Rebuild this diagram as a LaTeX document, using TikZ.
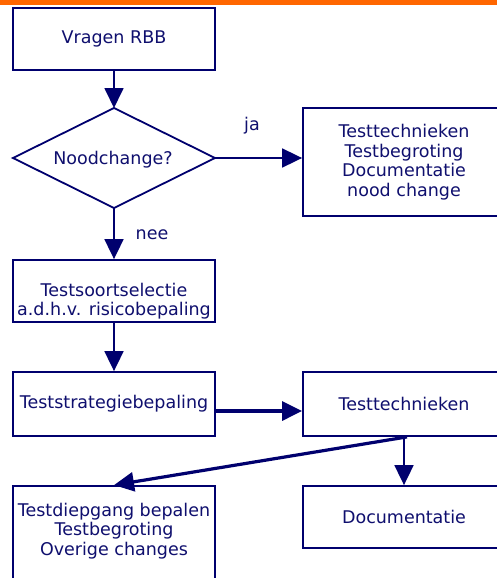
\documentclass[tikz,border=0pt]{standalone}
\usepackage{fontspec}
\setmainfont{DejaVu Sans}
\usetikzlibrary{arrows.meta}
\definecolor{navy}{RGB}{0,0,110}
\definecolor{navytext}{RGB}{15,15,110}
\definecolor{topbar}{RGB}{255,102,0}
\tikzset{
  txt/.style={text=navytext,font=\fontsize{17.5}{19.5}\selectfont,align=center,inner sep=0pt},
  box/.style={txt,draw=navy,line width=1.8pt,minimum width=202pt,minimum height=62pt},
  diaedge/.style={draw=navy,line width=1.8pt,line join=miter},
  arr/.style={draw=navy,line width=1.8pt,-{Triangle[length=20pt,width=19pt]}},
  thickarr/.style={draw=navy,line width=3.2pt,-{Triangle[length=20pt,width=19pt]}},
}
\begin{document}
\begin{tikzpicture}[x=1pt,y=-1pt]
\clip (0,0) rectangle (497,578);
\fill[white] (0,0) rectangle (497,578);
\fill[topbar] (0,0) rectangle (497,5);
\node[box] (vr) at (114,39) {Vragen RBB};
\coordinate (ncn) at (114,108);
\coordinate (nce) at (215,158);
\coordinate (ncs) at (114,208);
\coordinate (ncw) at (13,158);
\draw[diaedge] (ncn) -- (nce) -- (ncs) -- (ncw) -- cycle;
\node[txt] (nc) at (113,160) {Noodchange?};
\node[box,minimum height=108pt] (nood) at (404,162) {Testtechnieken\\Testbegroting\\Documentatie\\nood change};
\node[box] (tsel) at (114,291) {};
\node[txt] (tseltxt) at (114,301) {Testsoortselectie\\a.d.h.v. risicobepaling};
\node[box,minimum height=64pt] (tstrat) at (114,404) {Teststrategiebepaling};
\node[box,minimum height=64pt] (ttech) at (404,404) {Testtechnieken};
\node[box,minimum height=110pt] (tdiep) at (114,541) {};
\node[txt] (tdieptxt) at (114,531) {Testdiepgang bepalen\\Testbegroting\\Overige changes};
\node[box] (doc) at (404,517) {Documentatie};
\node[txt] (ja) at (252,126) {ja};
\node[txt] (nee) at (152,235) {nee};
\draw[arr] (vr.south) -- (ncn);
\draw[arr] (nce) -- (nce -| nood.west);
\draw[arr] (ncs) -- (tsel.north);
\draw[arr] (tsel) -- (tstrat);
\draw[thickarr] ([yshift=-7pt]tstrat.east) -- ([yshift=-7pt]ttech.west);
\draw[arr] (ttech.south) -- (doc.north);
\draw[thickarr] ([xshift=3pt]ttech.south) -- (tdiep.north);
\end{tikzpicture}
\end{document}
